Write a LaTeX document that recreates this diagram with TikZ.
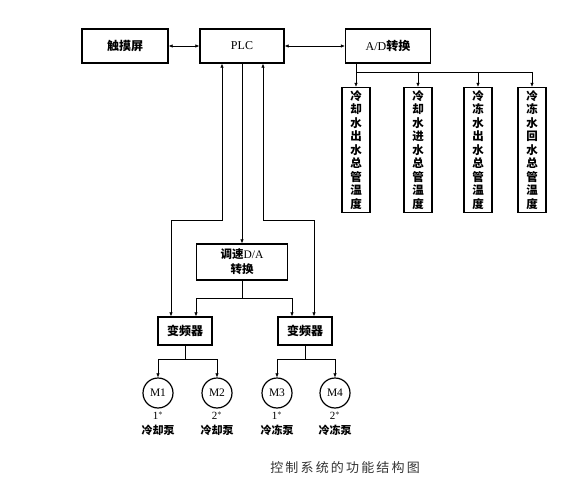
\documentclass[tikz,border=0pt]{standalone}
\usepackage{fontspec}
\setmainfont{Liberation Serif}
\newfontfamily\cjk{Noto Sans CJK SC}
\usetikzlibrary{arrows.meta,positioning}
\tikzstyle{box}=[draw,line width=1.3pt,minimum height=34pt,inner sep=0pt,font=\fontsize{12}{14}\selectfont]
\tikzstyle{tbox}=[draw,line width=1.3pt,minimum width=28pt,minimum height=125pt,inner sep=0pt,align=center,font=\cjk\bfseries\fontsize{11.5}{13.5}\selectfont]
\tikzstyle{motor}=[draw,circle,line width=1.2pt,minimum size=30pt,inner sep=0pt,font=\fontsize{11.5}{12}\selectfont]
\tikzstyle{lbl}=[inner sep=0pt,align=center,font=\fontsize{11}{14.5}\selectfont]

\begin{document}
\begin{tikzpicture}[x=1pt,y=-1pt,line width=0.6pt,>={Latex[length=4pt,width=3.5pt]}]
\useasboundingbox (0,0) rectangle (586,492);

\node[box,minimum width=86pt] (ts) at (125, 46) {\cjk\bfseries 触摸屏};
\node[box,minimum width=84pt] (p) at (242, 46) {PLC};
\node[box,minimum width=85pt] (ad) at (388, 46) {A/D{\cjk\bfseries 转换}};

\node[tbox] (t1) at (356, 150) {冷\\却\\水\\出\\水\\总\\管\\温\\度};
\node[tbox] (t2) at (418, 150) {冷\\却\\水\\进\\水\\总\\管\\温\\度};
\node[tbox] (t3) at (478, 150) {冷\\冻\\水\\出\\水\\总\\管\\温\\度};
\node[tbox] (t4) at (532, 150) {冷\\冻\\水\\回\\水\\总\\管\\温\\度};

\node[box,minimum width=91pt,minimum height=36pt,align=center,font=\fontsize{11.5}{15}\selectfont] (da) at (242, 262) {{\cjk\bfseries 调速}D/A\\{\cjk\bfseries 转换}};

\node[box,minimum width=54pt,minimum height=28pt] (f1) at (185, 331) {\cjk\bfseries 变频器};
\node[box,minimum width=54pt,minimum height=28pt] (f2) at (305, 331) {\cjk\bfseries 变频器};

\node[motor] (m1) at (158, 393) {M1};
\node[motor] (m2) at (217, 393) {M2};
\node[motor] (m3) at (277, 393) {M3};
\node[motor] (m4) at (335, 393) {M4};

\node[lbl,below=3pt of m1] (l1) {1$^*$\\{\cjk\bfseries 冷却泵}};
\node[lbl,below=3pt of m2] (l2) {2$^*$\\{\cjk\bfseries 冷却泵}};
\node[lbl,below=3pt of m3] (l3) {1$^*$\\{\cjk\bfseries 冷冻泵}};
\node[lbl,below=3pt of m4] (l4) {2$^*$\\{\cjk\bfseries 冷冻泵}};

\node[text=black!80,font=\cjk\fontsize{13}{15}\selectfont] (cap) at (345, 468) {控\,制\,系\,统\,的\,功\,能\,结\,构\,图};

\coordinate (a1) at (222, 220);
\coordinate (a2) at (263, 220);
\coordinate (b1) at (171, 220);
\coordinate (b2) at (314, 220);
\coordinate (c1) at (196, 298);
\coordinate (c2) at (292, 298);
\coordinate (d) at (0, 359);
\coordinate (e) at (0, 72);

\draw[<->] (ts) -- (p);
\draw[<->] (p) -- (ad);

\draw[<->] (p.south -| a1) -- (a1) -- (b1) -- (f1.north -| b1);
\draw[<->] (p.south -| a2) -- (a2) -- (b2) -- (f2.north -| b2);
\draw[->] (p) -- (da);

\draw[->] (da.south) |- (c1) -- (f1.north -| c1);
\draw[->] (da.south) |- (c2) -- (f2.north -| c2);

\draw[->] (f1.south) |- (m1.north |- d) -- (m1.north);
\draw[->] (f1.south) |- (m2.north |- d) -- (m2.north);
\draw[->] (f2.south) |- (m3.north |- d) -- (m3.north);
\draw[->] (f2.south) |- (m4.north |- d) -- (m4.north);

\draw (t1.north |- ad.south) -- (t1.north |- e) -- (t4.north |- e);
\foreach \i in {1,...,4}
  \draw[->] (t\i.north |- e) -- (t\i.north);

\end{tikzpicture}
\end{document}
